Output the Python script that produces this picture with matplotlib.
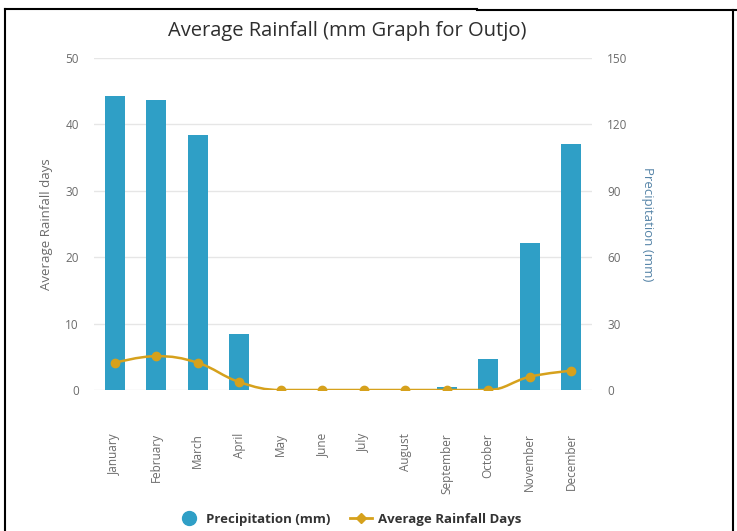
"""Average rainfall chart for Outjo."""

import matplotlib
matplotlib.use("Agg")
import matplotlib.pyplot as plt
from matplotlib.lines import Line2D
from matplotlib.path import Path
from matplotlib.patches import PathPatch


months = ["January", "February", "March", "April", "May", "June",
          "July", "August", "September", "October", "November", "December"]
precip_mm = [133, 131, 115, 25.5, 0.5, 0, 0, 0, 1.2, 13.8, 66.5, 111]
rain_days = [4.1, 5.1, 4.1, 1.2, 0, 0, 0, 0, 0, 0, 2.0, 2.9]

BAR_COLOR = "#2f9fc6"
LINE_COLOR = "#d6a11c"
GRAY = "#6b6b6b"

plt.rcParams["font.family"] = ["Open Sans", "DejaVu Sans"]


def spline_path(xs, ys, smoothing=1.5):
    """Bezier path through the points, like a Highcharts spline."""
    denom = smoothing + 1
    verts = [(xs[0], ys[0])]
    codes = [Path.MOVETO]
    n = len(xs)
    conts = []
    for i in range(n):
        if i == 0 or i == n - 1:
            conts.append(((xs[i], ys[i]), (xs[i], ys[i])))
            continue
        lx = (smoothing * xs[i] + xs[i - 1]) / denom
        ly = (smoothing * ys[i] + ys[i - 1]) / denom
        rx = (smoothing * xs[i] + xs[i + 1]) / denom
        ry = (smoothing * ys[i] + ys[i + 1]) / denom
        corr = (ry - ly) * (rx - xs[i]) / (rx - lx) + ys[i] - ry
        ly += corr
        ry += corr
        if ly > ys[i - 1] and ly > ys[i]:
            ly = max(ys[i - 1], ys[i])
            ry = 2 * ys[i] - ly
        elif ly < ys[i - 1] and ly < ys[i]:
            ly = min(ys[i - 1], ys[i])
            ry = 2 * ys[i] - ly
        if ry > ys[i + 1] and ry > ys[i]:
            ry = max(ys[i + 1], ys[i])
            ly = 2 * ys[i] - ry
        elif ry < ys[i + 1] and ry < ys[i]:
            ry = min(ys[i + 1], ys[i])
            ly = 2 * ys[i] - ry
        conts.append(((lx, ly), (rx, ry)))
    for i in range(1, n):
        verts += [conts[i - 1][1], conts[i][0], (xs[i], ys[i])]
        codes += [Path.CURVE4] * 3
    return Path(verts, codes)


fig = plt.figure(figsize=(7.37, 5.31), dpi=100)
ax = fig.add_axes([94 / 737, 141 / 531, 498 / 737, 332 / 531])
ax2 = ax.twinx()

x = list(range(len(months)))

# bars on the right axis (precipitation), with the grid
ax2.bar(x, precip_mm, width=0.48, color=BAR_COLOR, zorder=2)
ax2.set_ylim(0, 150)
ax2.set_yticks([0, 30, 60, 90, 120, 150])
ax2.grid(axis="y", color="#e6e6e6", linewidth=1, zorder=0)
ax2.set_axisbelow(True)
ax2.set_ylabel("Precipitation (mm)", color="#5785a8", fontsize=9.5,
               rotation=270, labelpad=19)

# line on the left axis (rain days), drawn on top
ax.set_zorder(ax2.get_zorder() + 1)
ax.patch.set_visible(False)
ax.add_patch(PathPatch(spline_path(x, rain_days), facecolor="none",
                       edgecolor=LINE_COLOR, linewidth=1.8, zorder=3))
ax.plot(x, rain_days, "o", color=LINE_COLOR, markersize=6, zorder=4)
ax.set_ylim(0, 50)
ax.set_yticks([0, 10, 20, 30, 40, 50])
ax.set_xlim(-0.5, 11.5)
ax.set_xticks(x)
ax.set_xticklabels(months, rotation=90, va="top", ha="center")
ax.set_ylabel("Average Rainfall days", color=GRAY, fontsize=9.5, labelpad=9)

for a in (ax, ax2):
    for s in a.spines.values():
        s.set_visible(False)
    a.tick_params(axis="y", length=0, pad=11, labelsize=8.5, labelcolor=GRAY)
ax.tick_params(axis="x", length=0, pad=31, labelsize=8.5, labelcolor=GRAY)

fig.text(347 / 737, 1 - 31 / 531, "Average Rainfall (mm Graph for Outjo)",
         ha="center", va="center", fontsize=14.5, color="#2e2e2e")

handles = [
    Line2D([], [], marker="o", linestyle="none", color=BAR_COLOR, markersize=10),
    Line2D([], [], marker="D", color=LINE_COLOR, linewidth=2, markersize=5),
]
fig.legend(handles, ["Precipitation (mm)", "Average Rainfall Days"],
           loc="center", bbox_to_anchor=(350 / 737, 1 - 519 / 531), ncol=2,
           frameon=False, prop={"weight": "bold", "size": 9.5},
           labelcolor="#333333", handlelength=1.6, columnspacing=1.5,
           handletextpad=0.5)

# black page frame around the chart
fig.add_artist(Line2D([5 / 737, 5 / 737], [0, 1 - 9 / 531], color="black", lw=1.5))
fig.add_artist(Line2D([5 / 737, 477 / 737], [1 - 9 / 531, 1 - 9 / 531],
                      color="black", lw=1.5))
fig.add_artist(Line2D([477 / 737, 1], [1 - 10 / 531, 1 - 10 / 531],
                      color="black", lw=1.5))
fig.add_artist(Line2D([733 / 737, 733 / 737], [0, 1 - 10 / 531],
                      color="black", lw=1.5))

fig.savefig("out.png", dpi=100)
